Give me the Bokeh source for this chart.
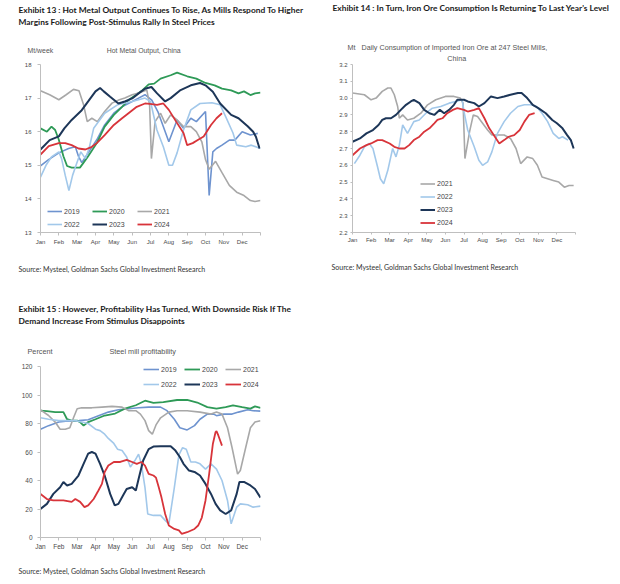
from bokeh.plotting import figure
from bokeh.models import (Range1d, FixedTicker, Legend, LegendItem, PrintfTickFormatter, Title,
                          LinearAxis)
from bokeh.layouts import row, column
from bokeh.embed import file_html
from bokeh.resources import INLINE

MONTHS = ["Jan", "Feb", "Mar", "Apr", "May", "Jun", "Jul", "Aug", "Sep", "Oct", "Nov", "Dec"]
YEARS = ["2019", "2020", "2021", "2022", "2023", "2024"]

# ---------------- Exhibit 13: Hot metal output, Mt/week (x = month position) -------------
hm19_m = [0, 0.44, 1.0, 1.53, 1.9, 2.07, 2.25, 2.6, 3.07, 3.5, 4.0, 4.44, 5.0, 5.35, 5.7, 6.07, 6.4, 7.0, 7.45, 7.8, 8.2, 8.5, 9.0, 9.2, 9.4, 9.6, 9.9, 10.3, 10.6, 11.0, 11.45, 11.85]
hm19_v = [14.98, 15.17, 15.37, 15.5, 15.55, 15.27, 15.08, 15.37, 15.76, 16.2, 16.55, 16.74, 16.9, 17.0, 17.1, 16.94, 16.6, 15.7, 16.35, 16.1, 16.4, 16.3, 16.6, 14.1, 15.4, 15.5, 15.6, 15.75, 15.75, 16.0, 15.9, 15.95]
hm20_m = [0, 0.35, 0.6, 0.8, 1.0, 1.25, 1.45, 1.7, 2.15, 2.35, 2.6, 3.07, 3.5, 4.0, 4.45, 4.8, 5.2, 5.55, 5.9, 6.2, 6.55, 7.1, 7.45, 8.0, 8.5, 9.0, 9.5, 9.9, 10.4, 10.8, 11.1, 11.45, 11.7, 12.0]
hm20_v = [16.1, 16.0, 16.15, 16.05, 15.76, 15.27, 14.98, 14.93, 14.93, 15.08, 15.27, 15.66, 16.15, 16.5, 16.74, 16.94, 17.09, 17.23, 17.41, 17.43, 17.58, 17.68, 17.76, 17.65, 17.58, 17.45, 17.38, 17.28, 17.23, 17.14, 17.2, 17.09, 17.14, 17.16]
hm21_m = [0, 0.5, 1.0, 1.4, 1.8, 2.1, 2.35, 2.55, 2.8, 3.1, 3.5, 3.9, 4.3, 4.6, 5.0, 5.35, 5.8, 5.95, 6.05, 6.25, 6.55, 6.8, 7.1, 7.45, 7.8, 8.2, 8.5, 8.8, 9.0, 9.2, 9.55, 9.9, 10.3, 10.7, 11.1, 11.45, 11.7, 12.0]
hm21_v = [17.22, 17.1, 16.95, 17.1, 17.26, 17.22, 16.8, 16.3, 16.4, 16.3, 16.6, 16.85, 16.95, 17.0, 17.1, 17.15, 17.24, 16.8, 15.2, 16.3, 16.55, 16.25, 16.5, 16.35, 16.15, 16.15, 16.0, 15.7, 15.17, 14.88, 15.12, 14.78, 14.4, 14.2, 14.1, 13.95, 13.92, 13.95]
hm22_m = [0, 0.3, 0.6, 1.0, 1.15, 1.35, 1.55, 1.75, 2.0, 2.2, 2.45, 2.65, 2.9, 3.5, 4.2, 5.0, 5.7, 6.0, 6.35, 6.7, 7.0, 7.2, 7.45, 7.8, 8.2, 8.7, 9.35, 9.8, 10.1, 10.5, 10.7, 11.2, 11.5, 12.0]
hm22_v = [14.65, 15.0, 15.25, 15.4, 15.2, 14.7, 14.25, 14.7, 15.1, 15.4, 15.2, 15.5, 16.1, 16.55, 16.8, 16.9, 17.0, 16.9, 16.05, 15.55, 15.0, 15.0, 15.37, 16.05, 16.65, 16.84, 16.86, 16.8, 16.45, 15.96, 15.6, 15.55, 15.6, 15.5]
hm23_m = [0, 0.5, 1.0, 1.3, 1.7, 2.25, 2.6, 3.0, 3.25, 3.45, 3.8, 4.25, 4.6, 5.0, 5.35, 5.7, 6.05, 6.36, 6.8, 7.1, 7.64, 8.2, 8.7, 9.0, 9.4, 9.8, 10.4, 10.8, 11.3, 11.6, 11.75, 11.95]
hm23_v = [15.47, 15.75, 15.86, 16.1, 16.35, 16.64, 16.9, 17.2, 17.3, 17.2, 17.04, 16.84, 16.9, 16.99, 17.14, 17.28, 17.33, 17.14, 16.9, 17.0, 17.24, 17.38, 17.45, 17.38, 17.19, 16.84, 16.5, 16.4, 16.16, 16.0, 15.85, 15.5]
hm24_m = [0, 0.45, 1.0, 1.35, 1.7, 2.07, 2.45, 2.8, 3.07, 3.5, 4.0, 4.45, 4.8, 5.25, 5.7, 6.07, 6.36, 6.7, 7.0, 7.4, 7.8, 8.0, 8.3, 8.6, 8.9, 9.3, 9.6, 9.9]
hm24_v = [15.32, 15.57, 15.66, 15.66, 15.6, 15.5, 15.47, 15.55, 15.66, 15.9, 16.2, 16.4, 16.55, 16.74, 16.84, 16.82, 16.8, 16.84, 16.65, 16.3, 15.96, 15.6, 15.66, 15.76, 15.86, 16.2, 16.4, 16.55]
hm_ticks = [13, 14, 15, 16, 17, 18]

# ---------------- Exhibit 14: Iron ore consumption, Mt -------------
io21_m = [0, 0.64, 1.0, 1.27, 1.6, 1.9, 2.07, 2.25, 2.43, 2.52, 2.7, 2.96, 3.3, 3.68, 4.04, 4.48, 5.0, 5.46, 5.8, 5.95, 6.05, 6.3, 6.5, 6.73, 7.0, 7.27, 7.5, 7.8, 8.16, 8.5, 8.8, 9.05, 9.4, 9.7, 9.95, 10.2, 10.5, 10.8, 11.1, 11.4, 11.65, 11.9]
io21_v = [3.03, 3.02, 2.99, 3.0, 3.04, 3.06, 3.06, 3.02, 2.95, 2.88, 2.9, 2.87, 2.88, 2.91, 2.96, 2.99, 3.01, 3.01, 3.0, 2.97, 2.64, 2.8, 2.9, 2.89, 2.85, 2.81, 2.78, 2.78, 2.78, 2.76, 2.7, 2.61, 2.65, 2.64, 2.6, 2.53, 2.52, 2.51, 2.5, 2.47, 2.48, 2.48]
io22_m = [0.1, 0.4, 0.64, 0.9, 1.1, 1.35, 1.5, 1.68, 1.9, 2.16, 2.34, 2.52, 2.7, 2.96, 3.3, 3.59, 3.95, 4.3, 4.75, 5.2, 5.55, 5.9, 6.0, 6.2, 6.55, 6.8, 7.0, 7.27, 7.5, 7.8, 8.16, 8.5, 8.9, 9.25, 9.6, 9.9, 10.2, 10.5, 10.8, 11.1, 11.3, 11.6]
io22_v = [2.61, 2.66, 2.71, 2.73, 2.7, 2.59, 2.52, 2.49, 2.57, 2.7, 2.65, 2.72, 2.84, 2.79, 2.86, 2.87, 2.91, 2.94, 2.95, 2.97, 2.98, 2.99, 2.92, 2.81, 2.71, 2.63, 2.6, 2.62, 2.68, 2.79, 2.86, 2.91, 2.95, 2.96, 2.96, 2.95, 2.91, 2.86, 2.79, 2.76, 2.77, 2.75]
io23_m = [0, 0.4, 0.75, 1.1, 1.4, 1.6, 1.8, 2.07, 2.34, 2.6, 2.88, 3.14, 3.3, 3.6, 3.86, 4.14, 4.4, 4.7, 4.93, 5.2, 5.46, 5.64, 6.0, 6.2, 6.55, 6.8, 7.1, 7.45, 7.8, 8.16, 8.5, 8.9, 9.1, 9.4, 9.7, 10.0, 10.4, 10.75, 11.0, 11.3, 11.55, 11.75, 11.9]
io23_v = [2.74, 2.76, 2.79, 2.81, 2.84, 2.87, 2.88, 2.88, 2.9, 2.93, 2.96, 2.98, 2.99, 2.97, 2.93, 2.91, 2.9, 2.93, 2.91, 2.93, 2.96, 2.99, 2.99, 2.98, 2.97, 2.95, 2.97, 3.01, 3.0, 3.01, 3.02, 3.03, 3.03, 3.0, 2.96, 2.94, 2.91, 2.87, 2.85, 2.82, 2.78, 2.75, 2.7]
io24_m = [0, 0.4, 0.75, 1.0, 1.35, 1.6, 2.0, 2.25, 2.52, 2.8, 3.05, 3.3, 3.6, 3.86, 4.14, 4.4, 4.57, 4.84, 5.1, 5.4, 5.64, 6.0, 6.2, 6.55, 6.8, 7.1, 7.36, 7.6, 7.9, 8.16, 8.4, 8.7, 9.0, 9.25, 9.5, 9.8]
io24_v = [2.66, 2.7, 2.72, 2.73, 2.75, 2.75, 2.73, 2.71, 2.7, 2.7, 2.72, 2.75, 2.77, 2.8, 2.82, 2.85, 2.87, 2.88, 2.91, 2.93, 2.94, 2.93, 2.92, 2.93, 2.94, 2.88, 2.82, 2.78, 2.73, 2.75, 2.77, 2.78, 2.81, 2.86, 2.9, 2.91]
io_ticks = [2.2, 2.3, 2.4, 2.5, 2.6, 2.7, 2.8, 2.9, 3.0, 3.1, 3.2]

# ---------------- Exhibit 15: Steel mill profitability, percent -------------
pr19_m = [0, 0.44, 1.0, 1.5, 2.1, 2.6, 3.2, 3.7, 4.25, 4.8, 5.35, 5.9, 6.55, 6.9, 7.3, 7.6, 8.0, 8.4, 8.7, 9.1, 9.45, 9.6, 10.0, 10.45, 10.8, 11.3, 11.6, 12.0]
pr19_v = [76, 78.5, 81, 81.7, 82, 82.6, 85.6, 88, 89.6, 90.4, 91, 91.5, 91.5, 89, 83, 77, 75.5, 78.5, 83, 86.6, 86.6, 85.5, 86.6, 86.6, 88, 89.6, 89, 88.7]
pr20_m = [0, 0.35, 0.8, 1.25, 1.45, 1.7, 2.0, 2.16, 2.35, 2.6, 3.0, 3.5, 4.07, 4.6, 5.2, 5.7, 6.16, 6.7, 7.45, 8.0, 8.55, 9.1, 9.6, 10.1, 10.5, 11.0, 11.45, 11.7, 12.0]
pr20_v = [89, 88.7, 88, 88, 83, 82, 82, 81, 78.5, 81, 83, 85.6, 87, 90.4, 92.8, 96, 94.5, 95, 96.5, 96.5, 94.7, 91.5, 90.4, 91.5, 92.8, 91.5, 90.4, 92, 91]
pr21_m = [0, 0.44, 0.8, 1.07, 1.35, 1.6, 1.8, 2.0, 2.25, 2.8, 3.35, 3.9, 4.45, 4.8, 5.2, 5.45, 5.7, 5.9, 6.1, 6.3, 6.55, 7.0, 7.45, 8.0, 8.7, 9.3, 9.6, 9.9, 10.2, 10.45, 10.75, 10.9, 11.2, 11.45, 11.7, 12.0]
pr21_v = [89.5, 85.6, 81, 76, 76, 77, 84, 90.4, 91, 91, 91.5, 92, 91.5, 89, 89, 86.6, 82, 75, 72.5, 79, 84, 88, 89, 89, 88, 86.6, 88, 86.6, 77, 63, 44.5, 47, 63.5, 77, 81, 82]
pr22_m = [0, 0.44, 1.0, 1.5, 1.9, 2.25, 2.6, 3.0, 3.25, 3.5, 3.7, 4.0, 4.2, 4.45, 4.7, 4.9, 5.15, 5.35, 5.5, 5.7, 5.85, 6.16, 6.55, 6.8, 7.0, 7.3, 7.55, 7.75, 7.95, 8.2, 8.45, 8.7, 9.0, 9.3, 9.6, 9.9, 10.2, 10.4, 10.7, 10.9, 11.3, 11.6, 12.0]
pr22_v = [84, 83, 82, 82, 82, 81, 80, 76, 75, 72.5, 69.5, 66, 62, 61, 56.5, 49.5, 54, 58.5, 51.7, 35, 16.5, 15.5, 15.5, 12, 9.6, 35, 58, 63, 62, 53, 53, 51.7, 48, 51.7, 48, 40, 26, 9.6, 21.3, 23.6, 23, 21.3, 22]
pr23_m = [0, 0.35, 0.7, 1.07, 1.25, 1.45, 1.7, 2.07, 2.35, 2.6, 2.8, 3.0, 3.25, 3.5, 3.8, 4.05, 4.25, 4.5, 4.7, 5.0, 5.2, 5.35, 5.6, 5.9, 6.16, 6.55, 7.1, 7.36, 7.6, 7.8, 8.1, 8.4, 8.7, 9.0, 9.3, 9.55, 9.8, 10.1, 10.4, 10.7, 10.85, 11.1, 11.45, 11.7, 12.0]
pr23_v = [20, 23.6, 30.6, 35.3, 39, 36.5, 37.6, 43.5, 51.7, 58.8, 60, 58.8, 51.7, 43.5, 30.6, 22.5, 23.6, 29.5, 34, 35.3, 33, 41, 54, 62, 63.8, 64, 64, 61, 56.5, 51.7, 47, 46, 43.5, 37.6, 30.6, 23.6, 19, 16.5, 19, 30.6, 39, 39, 36.5, 34, 28]
pr24_m = [0, 0.35, 0.7, 1.25, 1.7, 1.9, 2.16, 2.4, 2.6, 2.9, 3.16, 3.35, 3.5, 3.7, 4.0, 4.35, 4.7, 5.0, 5.25, 5.5, 5.7, 5.9, 6.16, 6.3, 6.45, 6.6, 6.8, 7.0, 7.3, 7.55, 7.7, 8.0, 8.4, 8.6, 8.8, 9.0, 9.2, 9.4, 9.55, 9.6, 9.7, 9.9]
pr24_v = [30.6, 27, 26, 26, 25, 27, 25, 21.3, 22.5, 27, 33, 37.6, 46, 50.5, 53, 53, 54.5, 53, 51.7, 53, 50.5, 44.7, 43.5, 42, 35.3, 28, 16.5, 8.4, 6, 5, 2.6, 3.7, 6, 8.4, 14, 26, 44.7, 65.6, 74, 74.6, 71.6, 64.5]
pr_ticks = [0, 20, 40, 60, 80, 100, 120]

TITLE13 = ["Exhibit 13 : Hot Metal Output Continues To Rise, As Mills Respond To Higher",
           "Margins Following Post-Stimulus Rally In Steel Prices"]
TITLE14 = ["Exhibit 14 : In Turn, Iron Ore Consumption Is Returning To Last Year's Level"]
TITLE15 = ["Exhibit 15 : However, Profitability Has Turned, With Downside Risk If The",
           "Demand Increase From Stimulus Disappoints"]
SOURCE = "Source: Mysteel, Goldman Sachs Global Investment Research"

COLORS = {"2019": "#6E93CF", "2020": "#2E9A57", "2021": "#A8A8A8",
          "2022": "#A2C8EA", "2023": "#1D3658", "2024": "#D8343A"}
WIDTHS = {"2019": 1.6, "2020": 1.8, "2021": 1.6, "2022": 1.6, "2023": 2.0, "2024": 1.8}

BFONT = "Liberation Sans"
TFONT = "Lato"
KH = {BFONT: 1.15, TFONT: 1.2}
NB = "\u00a0"


def base_fig(w, h, left, top, right, bottom, yr, yticks, fmt=None, tick_fs="6px",
             y_tick_out=3, y_standoff=6, x_tick_out=3, x_standoff=3):
    p = figure(width=w, height=h, x_range=Range1d(0, 12), y_range=Range1d(*yr),
               min_border_left=left, min_border_right=right, min_border_top=top,
               min_border_bottom=bottom, toolbar_location=None, output_backend="svg")
    p.outline_line_color = None
    p.xgrid.visible = False
    p.ygrid.visible = False
    p.background_fill_color = "white"
    p.border_fill_color = "white"
    for ax in (p.xaxis[0], p.yaxis[0]):
        ax.axis_line_color = "#BFBFBF"
        ax.major_tick_line_color = "#BFBFBF"
        ax.minor_tick_line_color = None
        ax.major_tick_in = 0
        ax.major_label_text_font = BFONT
        ax.major_label_text_font_size = tick_fs
        ax.major_label_text_color = "#4A4A4A"
    p.xaxis.ticker = FixedTicker(ticks=list(range(13)))
    ov = {i: MONTHS[i] for i in range(12)}
    ov[12] = ""
    p.xaxis.major_label_overrides = ov
    p.xaxis.major_tick_out = x_tick_out
    p.xaxis.major_label_standoff = x_standoff
    p.yaxis.ticker = FixedTicker(ticks=yticks)
    p.yaxis.major_tick_out = y_tick_out
    p.yaxis.major_label_standoff = y_standoff
    if fmt:
        p.yaxis.formatter = PrintfTickFormatter(format=fmt)
    return p


def spacer(p, size, side):
    """An empty axis used only to reserve vertical room in a side panel."""
    ax = LinearAxis(ticker=FixedTicker(ticks=[6], minor_ticks=[]), major_tick_out=int(size),
                    major_tick_in=0, minor_tick_out=0, minor_tick_in=0, axis_line_color=None,
                    major_tick_line_color="white", major_tick_line_alpha=0.0,
                    major_label_overrides={6: ""}, major_label_standoff=0,
                    major_label_text_font_size="0px")
    p.add_layout(ax, side)


def mk_title(text, fs, font, bold, color, off, valign):
    return Title(text=text, align="left", offset=off, standoff=0, vertical_align=valign,
                 text_font=font, text_font_size="%gpx" % fs,
                 text_font_style="bold" if bold else "normal", text_color=color)


def stack_above(p, frame_top, rows):
    """rows: (text, center_y, font_px, font, bold, color, x_offset), nearest the frame first."""
    cur = frame_top
    for text, cy, fs, font, bold, color, off in rows:
        h = KH[font] * fs
        tb = cy + h / 2
        gap = int(round(cur - tb))
        if gap >= 1:
            spacer(p, gap, "above")
            cur -= gap
        p.add_layout(mk_title(text, fs, font, bold, color, off, "bottom"), "above")
        cur = cur - h - 2


def stack_below(p, start, rows):
    cur = start
    for text, cy, fs, font, bold, color, off in rows:
        h = KH[font] * fs
        tt = cy - h / 2
        gap = int(round(tt - cur))
        if gap >= 1:
            spacer(p, gap, "below")
            cur += gap
        p.add_layout(mk_title(text, fs, font, bold, color, off, "top"), "below")
        cur = cur + h + 2


def legend(p, items, loc, orient="horizontal", spacing=8, gh=10, gw=15, fs="7px"):
    lg = Legend(items=items, location=loc, orientation=orient, glyph_width=gw, glyph_height=gh,
                label_height=gh, label_width=20, label_standoff=2, spacing=spacing, padding=0,
                margin=0, border_line_color=None, background_fill_alpha=0,
                label_text_font=BFONT, label_text_font_size=fs, label_text_color="#444444")
    p.add_layout(lg)


TCOL = "#1A1A1A"
SCOL = "#555555"
RCOL = "#333333"

# ---------- Figure A: Exhibit 13 ----------
pa = base_fig(308, 288, 40, 62, 48, 56, (13, 18), hm_ticks)
ra = {}
for yr_, m, v in zip(YEARS, [hm19_m, hm20_m, hm21_m, hm22_m, hm23_m, hm24_m],
                     [hm19_v, hm20_v, hm21_v, hm22_v, hm23_v, hm24_v]):
    ra[yr_] = pa.line(m, v, line_color=COLORS[yr_], line_width=WIDTHS[yr_])
legend(pa, [LegendItem(label=y, renderers=[ra[y]]) for y in YEARS[:3]], (7, 16))
legend(pa, [LegendItem(label=y, renderers=[ra[y]]) for y in YEARS[3:]], (7, 3))
stack_above(pa, 62, [
    ("Mt/week" + NB * 28 + "Hot Metal Output, China", 47, 6.9, BFONT, False, SCOL, -13),
    (TITLE13[1], 18.5, 8.4, TFONT, True, TCOL, -22),
    (TITLE13[0], 6.5, 8.4, TFONT, True, TCOL, -22),
])
stack_below(pa, 232 + 15, [(SOURCE, 268, 7.0, TFONT, False, RCOL, -22)])

# ---------- Figure B: Exhibit 14 ----------
pb = base_fig(304, 288, 44, 62, 37, 53, (2.2, 3.2), io_ticks, fmt="%.1f",
              y_tick_out=2, y_standoff=3, x_tick_out=2, x_standoff=2)
rb = {}
for yr_, m, v in zip(YEARS[2:], [io21_m, io22_m, io23_m, io24_m], [io21_v, io22_v, io23_v, io24_v]):
    rb[yr_] = pb.line(m, v, line_color=COLORS[yr_], line_width=WIDTHS[yr_])
legend(pb, [LegendItem(label=y, renderers=[rb[y]]) for y in YEARS[2:]], (68, 3),
       orient="vertical", spacing=0, gh=13)
stack_above(pb, 62, [
    (NB * 50 + "China", 56, 7.2, BFONT, False, SCOL, -5),
    ("Mt" + NB * 3 + "Daily Consumption of Imported Iron Ore at 247 Steel Mills,", 47, 7.2, BFONT, False, SCOL, -5),
    (TITLE14[0], 6.5, 8.4, TFONT, True, TCOL, -20),
])
stack_below(pb, 235 + 12, [(SOURCE, 268, 7.0, TFONT, False, RCOL, -21)])

# ---------- Figure C: Exhibit 15 ----------
pc = base_fig(308, 288, 40, 78, 48, 39, (0, 120), pr_ticks, tick_fs="6.5px",
              y_tick_out=3, y_standoff=5, x_tick_out=3, x_standoff=2)
rc = {}
for yr_, m, v in zip(YEARS, [pr19_m, pr20_m, pr21_m, pr22_m, pr23_m, pr24_m],
                     [pr19_v, pr20_v, pr21_v, pr22_v, pr23_v, pr24_v]):
    rc[yr_] = pc.line(m, v, line_color=COLORS[yr_], line_width=WIDTHS[yr_])
legend(pc, [LegendItem(label=y, renderers=[rc[y]]) for y in YEARS[:3]], (103, 163), spacing=3, gw=16)
legend(pc, [LegendItem(label=y, renderers=[rc[y]]) for y in YEARS[3:]], (103, 148), spacing=3, gw=16)
stack_above(pc, 78, [
    ("Percent" + NB * 28 + "Steel mill profitability", 63, 7.3, BFONT, False, SCOL, -13),
    (TITLE15[1], 33, 8.4, TFONT, True, TCOL, -22),
    (TITLE15[0], 20, 8.4, TFONT, True, TCOL, -22),
])
stack_below(pc, 249 + 15, [(SOURCE, 282, 7.0, TFONT, False, RCOL, -22)])

layout = column(row(pa, pb), pc)
open("out.html", "w").write(file_html(layout, INLINE))
